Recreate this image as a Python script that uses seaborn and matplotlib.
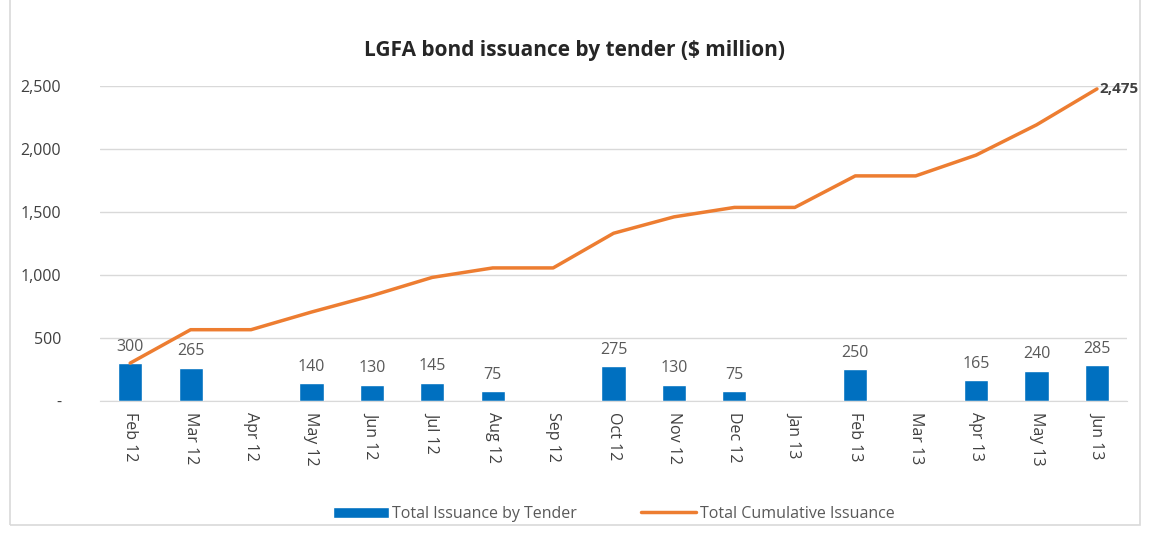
import matplotlib
matplotlib.use("Agg")
import matplotlib.pyplot as plt
import numpy as np
import pandas as pd
import seaborn as sns
from matplotlib.patches import Rectangle

# Data
months = ["Feb 12", "Mar 12", "Apr 12", "May 12", "Jun 12", "Jul 12", "Aug 12",
          "Sep 12", "Oct 12", "Nov 12", "Dec 12", "Jan 13", "Feb 13", "Mar 13",
          "Apr 13", "May 13", "Jun 13"]
issuance = [300, 265, 0, 140, 130, 145, 75, 0, 275, 130, 75, 0, 250, 0, 165, 240, 285]
cumulative = [300, 565, 565, 705, 835, 980, 1055, 1055, 1330, 1460, 1535, 1535,
              1785, 1785, 1950, 2190, 2475]
y_ticks = [0, 500, 1000, 1500, 2000, 2500]
y_tick_labels = ["-", "500", "1,000", "1,500", "2,000", "2,500"]

df = pd.DataFrame({"month": months, "issuance": issuance,
                   "cumulative": cumulative, "pos": np.arange(len(months))})

sns.set_style("white")
plt.rcParams["font.family"] = ["Open Sans", "DejaVu Sans"]

fig = plt.figure(figsize=(11.49, 5.36), dpi=100)
ax = fig.add_axes([0.087, 0.252, 0.894, 0.588])

bar_color = "#0070C0"
line_color = "#ED7D31"
text_color = "#404040"

sns.barplot(data=df, x="month", y="issuance", color=bar_color, width=0.4,
            saturation=1, ax=ax, label="Total Issuance by Tender")
sns.lineplot(data=df, x="pos", y="cumulative", color=line_color, linewidth=2.5,
             sort=False, ax=ax, label="Total Cumulative Issuance")

labels = [f"{v:,}" if v > 0 else "" for v in issuance]
ax.bar_label(ax.containers[0], labels=labels, padding=6, fontsize=11.5,
             color="#595959")
ax.annotate(f"{cumulative[-1]:,}", (df["pos"].iloc[-1], cumulative[-1]),
            xytext=(2, 0), textcoords="offset points", ha="left", va="center",
            fontsize=11, fontweight="bold", color="#404040")

ax.set_xlim(-0.5, len(months) - 0.5)
ax.set_ylim(0, 2500)
ax.set_yticks(y_ticks)
ax.set_yticklabels(y_tick_labels)
ax.set_xticks(df["pos"])
ax.set_xticklabels(months, rotation=270, ha="center", va="top")
ax.tick_params(axis="both", labelsize=11.5, labelcolor=text_color, length=0)
ax.tick_params(axis="y", pad=28)
ax.tick_params(axis="x", pad=8)
ax.grid(axis="y", color="#D9D9D9", linewidth=1)
ax.set_axisbelow(True)
for side in ["top", "right", "left"]:
    ax.spines[side].set_visible(False)
ax.spines["bottom"].set_color("#D9D9D9")
ax.set_xlabel("")
ax.set_ylabel("")

fig.suptitle("LGFA bond issuance by tender ($ million)", x=0.5, y=0.925,
             fontsize=15, fontweight="bold", color="#262626")

handles, names = ax.get_legend_handles_labels()
order = [names.index("Total Issuance by Tender"), names.index("Total Cumulative Issuance")]
ax.legend([handles[i] for i in order], [names[i] for i in order],
          loc="lower center", bbox_to_anchor=(0.5, -0.43), ncol=2,
          frameon=False, fontsize=11.5, labelcolor="#595959",
          handlelength=3.5, handletextpad=0.2, columnspacing=4)

fig.patches.append(Rectangle((0.009, 0.02), 0.983, 1.2, transform=fig.transFigure,
                             fill=False, edgecolor="#D9D9D9", linewidth=1.2))

fig.savefig("out.png", dpi=100, facecolor="white")
